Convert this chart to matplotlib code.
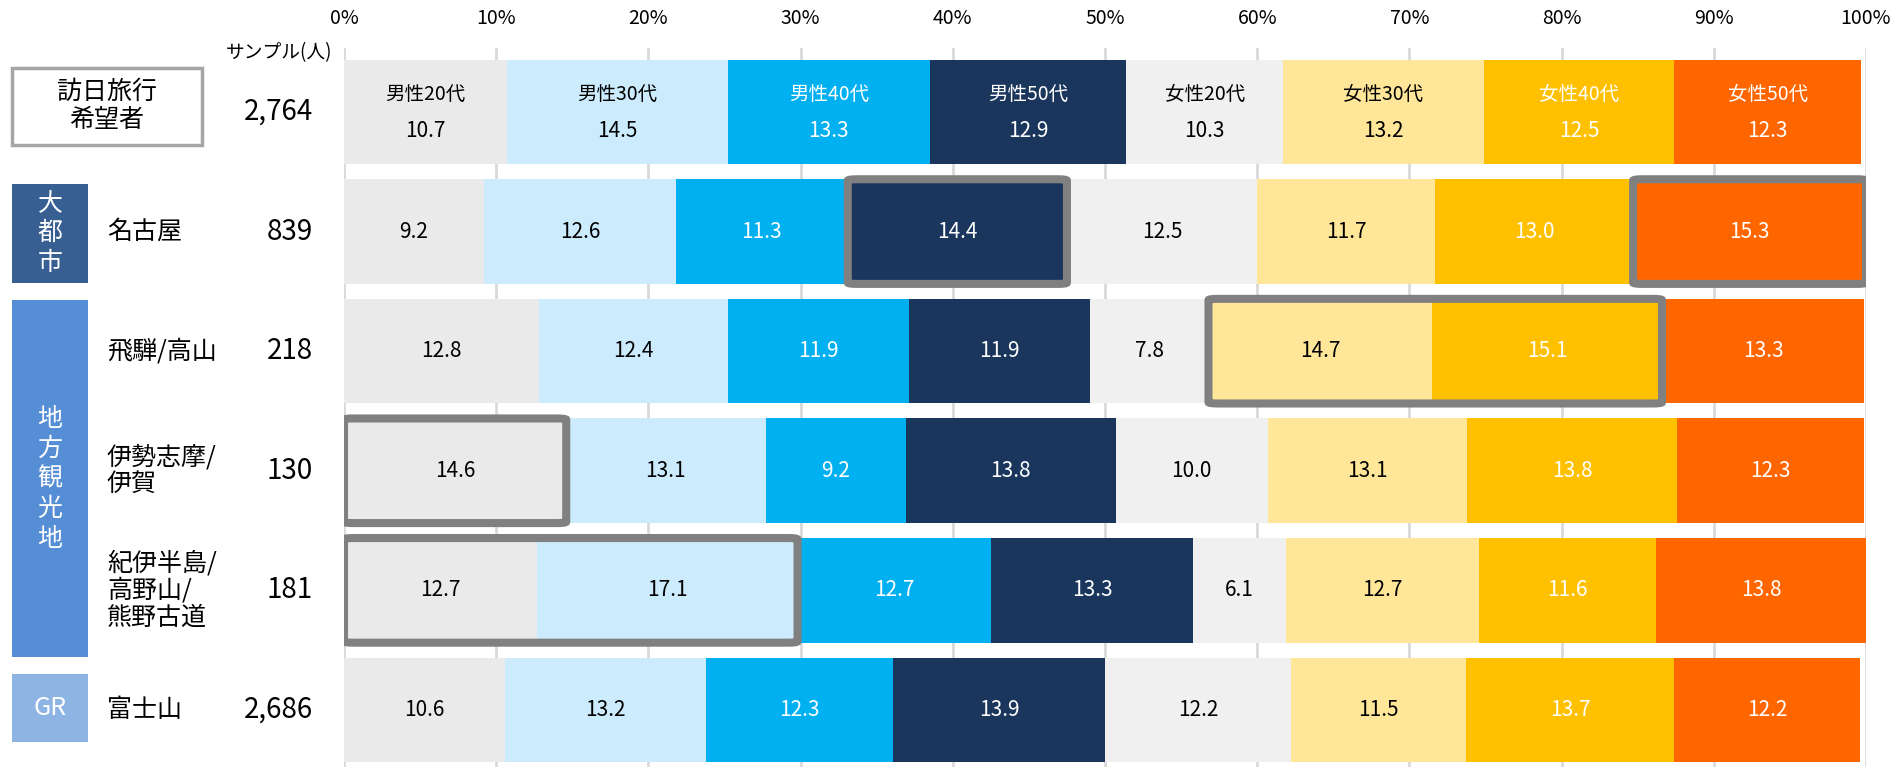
import numpy as np
import matplotlib.pyplot as plt
from matplotlib.patches import FancyBboxPatch, Rectangle

plt.rcParams['font.family'] = ['Noto Sans CJK JP', 'DejaVu Sans']

rows = ['訪日旅行\n希望者', '名古屋', '飛騨/高山', '伊勢志摩/\n伊賀', '紀伊半島/\n高野山/\n熊野古道', '富士山']
samples = ['2,764', '839', '218', '130', '181', '2,686']
series = ['男性20代', '男性30代', '男性40代', '男性50代', '女性20代', '女性30代', '女性40代', '女性50代']

male20 = [10.7, 9.2, 12.8, 14.6, 12.7, 10.6]
male30 = [14.5, 12.6, 12.4, 13.1, 17.1, 13.2]
male40 = [13.3, 11.3, 11.9, 9.2, 12.7, 12.3]
male50 = [12.9, 14.4, 11.9, 13.8, 13.3, 13.9]
female20 = [10.3, 12.5, 7.8, 10.0, 6.1, 12.2]
female30 = [13.2, 11.7, 14.7, 13.1, 12.7, 11.5]
female40 = [12.5, 13.0, 15.1, 13.8, 11.6, 13.7]
female50 = [12.3, 15.3, 13.3, 12.3, 13.8, 12.2]

# (row, first series, last series) of the grey highlight frames
highlights = [(1, 3, 3), (1, 7, 7), (2, 5, 6), (3, 0, 0), (4, 0, 1)]

groups = [('大\n都\n市', 0.60, 1.43, '#375F92'),
          ('地\n方\n観\n光\n地', 1.57, 4.56, '#558ED5'),
          ('GR', 4.70, 5.27, '#8EB4E3')]

colors = ['#EAEAEA', '#CCEBFC', '#00B0F0', '#1A365D',
          '#F0F0F0', '#FFE699', '#FFC000', '#FF6600']
text_colors = ['black', 'black', 'white', 'white', 'black', 'black', 'white', 'white']

data = np.array([male20, male30, male40, male50, female20, female30, female40, female50])
y = np.arange(len(rows))
h = 0.875

fig = plt.figure(figsize=(19.02, 7.67), dpi=100)
ax = fig.add_axes([344/1902, 0, 1522/1902, 1 - 48/767])

left = np.zeros(len(rows))
for k in range(len(series)):
    ax.barh(y, data[k], h, left=left, color=colors[k], zorder=2)
    for i in range(len(rows)):
        cx = left[i] + data[k][i] / 2
        if i == 0:
            ax.text(cx, i - 0.15, series[k], ha='center', va='center', fontsize=14, color=text_colors[k], zorder=4)
            ax.text(cx, i + 0.16, '%.1f' % data[k][i], ha='center', va='center', fontsize=15, color=text_colors[k], zorder=4)
        else:
            ax.text(cx, i, '%.1f' % data[k][i], ha='center', va='center', fontsize=15, color=text_colors[k], zorder=4)
    left += data[k]

cum = np.vstack([np.zeros(len(rows)), np.cumsum(data, axis=0)])
for r, a, b in highlights:
    x0 = cum[a][r]
    x1 = cum[b + 1][r]
    box = FancyBboxPatch((x0, r - h / 2), x1 - x0, h, boxstyle='round,pad=0,rounding_size=0.6',
                         fill=False, edgecolor='#808080', linewidth=5.8, zorder=5,
                         mutation_aspect=0.02)
    ax.add_patch(box)

ax.set_xlim(0, 100)
ax.set_ylim(5.477, -0.535)
ax.set_xticks(np.arange(0, 101, 10))
ax.set_xticklabels(['%d%%' % v for v in range(0, 101, 10)], fontsize=14)
ax.xaxis.tick_top()
ax.tick_params(axis='x', length=0, pad=14)
ax.set_yticks([])
ax.grid(axis='x', color='#D9D9D9', linewidth=2, zorder=0)
for s in ax.spines.values():
    s.set_visible(False)

tr = ax.get_yaxis_transform()
px = lambda p: (p - 344) / 1522

ax.add_patch(Rectangle((px(12), -0.368), px(202) - px(12), 0.644, transform=tr, clip_on=False,
                       facecolor='white', edgecolor='#A6A6A6', linewidth=2.5))
ax.text(px(107), -0.05, rows[0], transform=tr, ha='center', va='center', fontsize=18, linespacing=1.1)

for name, y0, y1, c in groups:
    ax.add_patch(Rectangle((px(12), y0), px(88) - px(12), y1 - y0, transform=tr, clip_on=False,
                           facecolor=c, edgecolor='none'))
    ax.text(px(50), (y0 + y1) / 2, name, transform=tr, ha='center', va='center', fontsize=18,
            color='white', linespacing=1.2)

for i in range(1, len(rows)):
    ax.text(px(107), i, rows[i], transform=tr, ha='left', va='center', fontsize=18, linespacing=1.05)

for i in range(len(rows)):
    ax.text(px(313), i, samples[i], transform=tr, ha='right', va='center', fontsize=20)

ax.text(px(332), -0.5, 'サンプル(人)', transform=tr, ha='right', va='center', fontsize=13.5)

fig.savefig('out.png', dpi=100)
